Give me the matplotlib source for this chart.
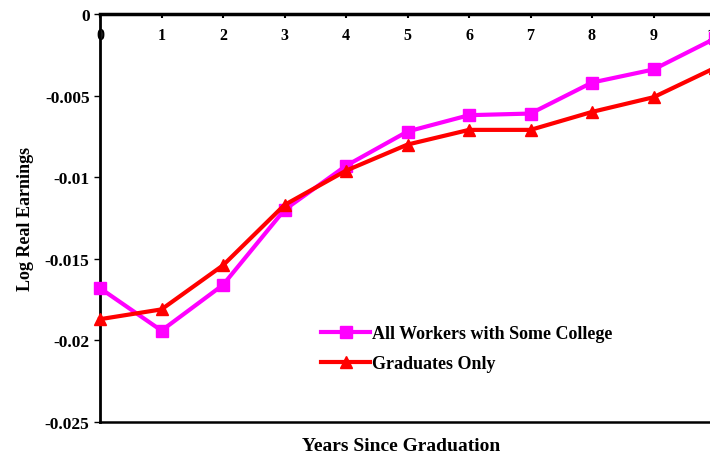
import numpy as np
import matplotlib
matplotlib.use("Agg")
import matplotlib.pyplot as plt

# Years since graduation and the two earnings series
years = [0, 1, 2, 3, 4, 5, 6, 7, 8, 9, 10]
some_college = [-0.0168, -0.0194, -0.0166, -0.0120, -0.0093, -0.0072,
                -0.0062, -0.0061, -0.0042, -0.0034, -0.0015]
graduates = [-0.0187, -0.0181, -0.0154, -0.0117, -0.0096, -0.0080,
             -0.0071, -0.0071, -0.0060, -0.0051, -0.0033]
y_ticks = [0, -0.005, -0.01, -0.015, -0.02, -0.025]
y_tick_labels = ["0", "-0.005", "-0.01", "-0.015", "-0.02", "-0.025"]

plt.rcParams['font.family'] = ['Liberation Serif', 'DejaVu Serif']
plt.rcParams['font.weight'] = 'bold'

fig = plt.figure(figsize=(7.1, 4.6), dpi=100)
# axes runs past the right edge, as in the cropped original
ax = fig.add_axes([100 / 710, 1 - 423 / 460, 615 / 710, 408 / 460])

ax.plot(years, some_college, color='#ff00ff', lw=3, marker='s', ms=9,
        label='All Workers with Some College', clip_on=False, zorder=3)
ax.plot(years, graduates, color='#ff0000', lw=3, marker='^', ms=9,
        label='Graduates Only', clip_on=False, zorder=4)

ax.set_xlim(0, 10)
ax.set_ylim(-0.025, 0)
ax.set_yticks(y_ticks)
ax.set_yticklabels(y_tick_labels)
ax.set_xticks(years)

ax.xaxis.tick_top()
ax.tick_params(axis='x', direction='in', length=3, width=1.5, pad=-21,
               labelsize=11.5)
ax.tick_params(axis='y', direction='out', length=4, width=1, labelsize=12.5)

ax.spines['top'].set_linewidth(2.5)
ax.spines['left'].set_linewidth(2)
ax.spines['bottom'].set_linewidth(1.8)
ax.spines['right'].set_visible(False)

ax.set_ylabel('Log Real Earnings', fontsize=13, fontweight='bold', labelpad=8)
fig.text(401 / 710, 1 - 447 / 460, 'Years Since Graduation', ha='center',
         va='center', fontsize=14, fontweight='bold')

ax.legend(loc='upper left', bbox_to_anchor=(205 / 615, 1 - 295 / 408),
          frameon=False, handlelength=2.7, handletextpad=0.1,
          labelspacing=0.7, prop={'weight': 'bold', 'size': 13})

fig.savefig('out.png', dpi=100)
